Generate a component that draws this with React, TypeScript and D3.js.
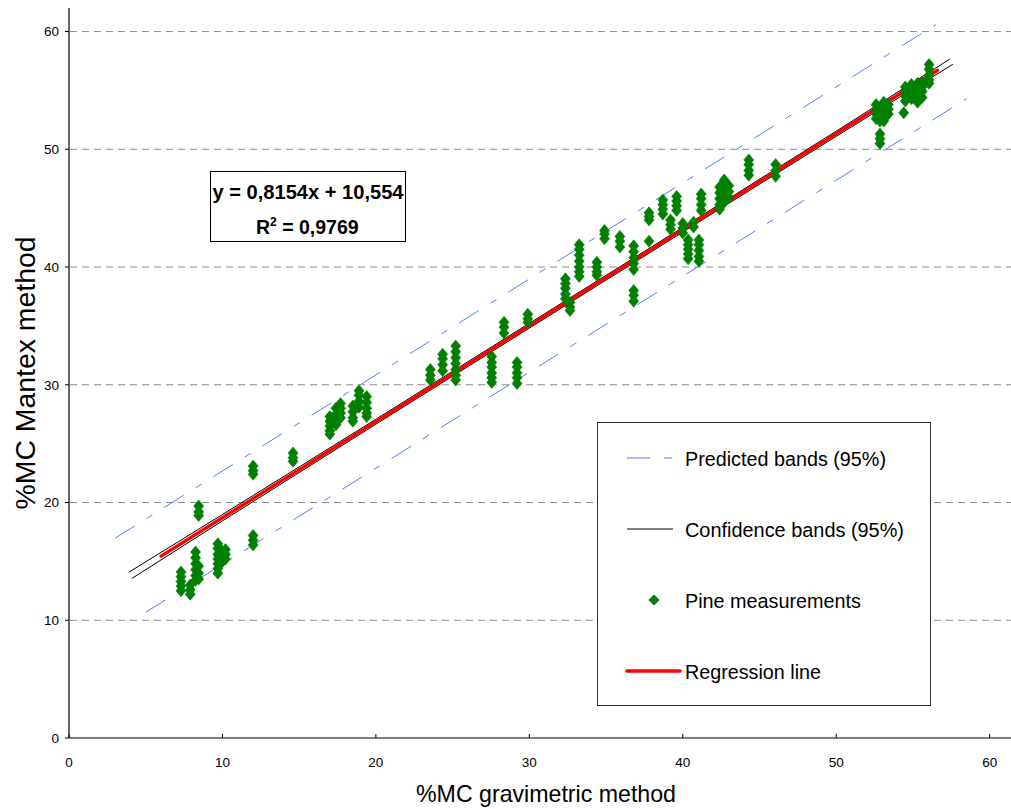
import React from 'react';
import * as d3 from 'd3';

// Regression stated on the chart
const REG_SLOPE = 0.8154;
const REG_INTERCEPT = 10.554;
const regressionX = [6.0, 56.6];

const xTicks = [0, 10, 20, 30, 40, 50, 60];
const yTicks = [0, 10, 20, 30, 40, 50, 60];
const gridValues = [10, 20, 30, 40, 50, 60];

// 95% prediction bands
const predUpperX = [3.0, 56.5];
const predUpperY = [16.97, 60.6];
const predLowerX = [5.0, 58.5];
const predLowerY = [10.68, 54.3];

// 95% confidence bands
const confUpperX = [3.9, 10, 20, 30, 40, 50, 57.4];
const confUpperY = [14.08, 18.98, 27.07, 35.22, 43.37, 51.54, 57.66];
const confLowerX = [4.1, 10, 20, 30, 40, 50, 57.6];
const confLowerY = [13.55, 18.44, 26.65, 34.81, 42.97, 51.1, 57.22];

// Pine measurements grouped by gravimetric MC (x) with the Mantex readings (y)
const pineColumnX = [
  7.3, 7.9, 8.25, 8.45, 8.45, 9.7, 9.95, 10.2, 12.0, 12.0,
  14.6, 17.0, 17.4, 17.7, 18.5, 18.9, 19.4, 23.55, 24.35, 25.2,
  27.55, 28.35, 29.2, 29.9, 32.35, 32.65, 33.25, 34.4, 34.9, 35.9,
  36.8, 36.8, 37.8, 37.8, 38.7, 39.2, 39.6, 40.0, 40.35, 40.7,
  41.05, 41.2, 42.4, 42.7, 43.0, 44.3, 46.05, 52.6, 52.85, 53.1,
  53.4, 54.4, 54.5, 54.9, 55.3, 55.6, 56.05,
];
const pineColumnY = [
  [14.1, 13.7, 13.3, 12.9, 12.5],
  [13.0, 12.6, 12.2],
  [15.8, 15.3, 14.8, 14.3, 13.8, 13.4],
  [14.6, 14.0, 13.5],
  [19.7, 19.2, 18.9],
  [16.5, 16.1, 15.6, 15.2, 14.8, 14.4, 14.0],
  [15.9, 15.4, 14.9],
  [16.0, 15.6, 15.2],
  [23.1, 22.7, 22.4],
  [17.2, 16.8, 16.4],
  [24.2, 23.8, 23.5],
  [27.3, 26.9, 26.5, 26.1, 25.8],
  [28.0, 27.5, 27.0, 26.6],
  [28.4, 28.0, 27.6, 27.2],
  [28.2, 27.7, 27.2, 26.9],
  [29.5, 29.1, 28.6, 28.1],
  [29.0, 28.5, 28.0, 27.6, 27.3],
  [31.3, 30.8, 30.4],
  [32.6, 32.2, 31.7, 31.2],
  [33.3, 32.8, 32.3, 31.8, 31.3, 30.8, 30.4],
  [32.4, 31.9, 31.5, 31.0, 30.6, 30.2],
  [35.3, 34.9, 34.4],
  [31.9, 31.5, 31.0, 30.6, 30.1],
  [36.0, 35.6, 35.3],
  [39.0, 38.6, 38.2, 37.7, 37.3],
  [37.0, 36.6, 36.3],
  [41.9, 41.5, 41.0, 40.5, 40.0, 39.6, 39.2],
  [40.4, 40.0, 39.6, 39.3],
  [43.1, 42.8, 42.4],
  [42.6, 42.2, 41.7],
  [41.8, 41.3, 40.8, 40.3, 39.8],
  [38.0, 37.6, 37.1],
  [44.6, 44.3, 44.0],
  [42.2],
  [45.7, 45.3, 44.9, 44.5],
  [44.0, 43.6, 43.2],
  [46.0, 45.6, 45.2, 44.8],
  [43.7, 43.3, 42.9],
  [42.3, 41.9, 41.5, 41.1, 40.7],
  [43.8, 43.4],
  [42.3, 41.9, 41.4, 40.9, 40.5],
  [46.2, 45.8, 45.3, 44.8],
  [46.8, 46.3, 45.8, 45.3, 44.9],
  [47.4, 47.0, 46.5, 46.0, 45.5],
  [46.9, 46.4, 45.9],
  [49.1, 48.7, 48.2, 47.8],
  [48.7, 48.2, 47.7],
  [53.8, 53.4, 53.0, 52.6],
  [52.4, 51.3, 50.9, 50.5],
  [54.0, 53.6, 53.2, 52.8, 52.4],
  [53.8, 53.4, 53.0],
  [53.1],
  [55.3, 54.9, 54.5, 54.1],
  [55.5, 55.1, 54.7, 54.3],
  [55.6, 55.2, 54.8, 54.4, 54.0],
  [55.7, 55.3, 54.9, 54.4],
  [57.2, 56.8, 56.3, 55.9, 55.6],
];

const legendLabels = [
  'Predicted bands (95%)',
  'Confidence bands (95%)',
  'Pine measurements',
  'Regression line',
];
const legendLabelWidths = [201, 219, 176, 136];

const FONT = "'Liberation Sans', Arial, Helvetica, sans-serif";
const BLUE = '#4f7fff';
const GREEN = '#008000';
const RED = '#ff0000';
const GRID = '#8c8c8c';

const W = 1011;
const H = 809;

const xScale = d3.scaleLinear().domain([0, 61.39]).range([69, 1011]);
const yScale = d3.scaleLinear().domain([0, 62]).range([738, 8]);

const diamond = (w: number, h: number) =>
  `M0,${-h / 2}L${w / 2},0L0,${h / 2}L${-w / 2},0Z`;

const decimalComma = (v: number) => String(v).replace('.', ',');

export default function App() {
  const line = d3
    .line<[number, number]>()
    .x((d) => xScale(d[0]))
    .y((d) => yScale(d[1]));

  const zip = (xs: number[], ys: number[]) =>
    xs.map((v, i) => [v, ys[i]] as [number, number]);

  const regPts = regressionX.map(
    (v) => [v, REG_SLOPE * v + REG_INTERCEPT] as [number, number]
  );

  const points: [number, number][] = [];
  pineColumnX.forEach((cx, i) => {
    pineColumnY[i].forEach((vy) => points.push([cx, vy]));
  });

  const plotDiamond = diamond(10, 12);
  const legendDiamond = diamond(11, 11);
  const predDash = '23,14,7,14';

  const legendRowY = [458, 529, 600, 671];

  return (
    <svg
      width={W}
      height={H}
      style={{ position: 'absolute', left: 0, top: 0, background: '#fff' }}
      fontFamily={FONT}
    >
      <rect x={0} y={0} width={W} height={H} fill="#fff" />

      {/* horizontal gridlines */}
      {gridValues.map((v) => (
        <line
          key={`g${v}`}
          x1={xScale(0) + 1}
          x2={W}
          y1={yScale(v)}
          y2={yScale(v)}
          stroke={GRID}
          strokeWidth={1}
          strokeDasharray="7,5"
        />
      ))}

      {/* prediction bands */}
      <path
        d={line(zip(predUpperX, predUpperY)) || ''}
        fill="none"
        stroke={BLUE}
        strokeWidth={1}
        strokeDasharray={predDash}
      />
      <path
        d={line(zip(predLowerX, predLowerY)) || ''}
        fill="none"
        stroke={BLUE}
        strokeWidth={1}
        strokeDasharray={predDash}
      />

      {/* confidence bands */}
      <path
        d={line(zip(confUpperX, confUpperY)) || ''}
        fill="none"
        stroke="#000"
        strokeWidth={1}
      />
      <path
        d={line(zip(confLowerX, confLowerY)) || ''}
        fill="none"
        stroke="#000"
        strokeWidth={1}
      />

      {/* regression line */}
      <path
        d={line(regPts) || ''}
        fill="none"
        stroke={RED}
        strokeWidth={3.5}
        strokeLinecap="round"
      />

      {/* measurements */}
      {points.map((p, i) => (
        <path
          key={`p${i}`}
          d={plotDiamond}
          transform={`translate(${xScale(p[0])},${yScale(p[1])})`}
          fill={GREEN}
          stroke={GREEN}
          strokeWidth={0.6}
        />
      ))}

      {/* axes */}
      <line x1={xScale(0)} x2={xScale(0)} y1={yScale(62)} y2={yScale(0)} stroke="#000" strokeWidth={1.2} />
      <line x1={xScale(0)} x2={W} y1={yScale(0)} y2={yScale(0)} stroke="#000" strokeWidth={1.2} />

      {yTicks.map((v) => (
        <g key={`yt${v}`}>
          <line x1={xScale(0) - 4} x2={xScale(0)} y1={yScale(v)} y2={yScale(v)} stroke="#000" strokeWidth={1} />
          <text
            x={xScale(0) - 10}
            y={yScale(v)}
            dy="0.36em"
            textAnchor="end"
            fontSize={13.5}
            fill="#000"
          >
            {v}
          </text>
        </g>
      ))}

      {xTicks.map((v) => (
        <g key={`xt${v}`}>
          <line x1={xScale(v)} x2={xScale(v)} y1={yScale(0) - 4} y2={yScale(0)} stroke="#000" strokeWidth={1} />
          <text x={xScale(v)} y={767} textAnchor="middle" fontSize={13.5} fill="#000">
            {v}
          </text>
        </g>
      ))}

      {/* axis titles */}
      <text
        x={546}
        y={802}
        textAnchor="middle"
        fontSize={24}
        textLength={260}
        lengthAdjust="spacingAndGlyphs"
        fill="#000"
      >
        %MC gravimetric method
      </text>
      <text
        transform="translate(35,373) rotate(-90)"
        textAnchor="middle"
        fontSize={27.5}
        textLength={273}
        lengthAdjust="spacingAndGlyphs"
        fill="#000"
      >
        %MC Mantex method
      </text>

      {/* regression equation */}
      <rect x={210.5} y={171.5} width={195} height={70} fill="#fff" stroke="#000" strokeWidth={1} />
      <text
        x={308}
        y={199}
        textAnchor="middle"
        fontSize={19.5}
        fontWeight="bold"
        textLength={191}
        lengthAdjust="spacingAndGlyphs"
        fill="#000"
      >
        {`y = ${decimalComma(REG_SLOPE)}x + ${decimalComma(REG_INTERCEPT)}`}
      </text>
      <text
        x={256}
        y={234}
        fontSize={19.5}
        fontWeight="bold"
        fill="#000"
      >
        R<tspan dy={-8} fontSize={12}>2</tspan>
        <tspan dy={8}> = 0,9769</tspan>
      </text>

      {/* legend */}
      <rect x={597.5} y={422.5} width={333} height={283} fill="#fff" stroke="#333" strokeWidth={1} />
      <line x1={627} x2={674} y1={legendRowY[0]} y2={legendRowY[0]} stroke={BLUE} strokeWidth={1} strokeDasharray="23,14,8,14" />
      <line x1={627} x2={673} y1={legendRowY[1]} y2={legendRowY[1]} stroke="#000" strokeWidth={1} />
      <path d={legendDiamond} transform={`translate(654,${legendRowY[2]})`} fill={GREEN} />
      <line x1={627} x2={680} y1={legendRowY[3]} y2={legendRowY[3]} stroke={RED} strokeWidth={3.5} strokeLinecap="round" />
      {legendLabels.map((t, i) => (
        <text
          key={t}
          x={685}
          y={legendRowY[i] + 8}
          fontSize={20.5}
          textLength={legendLabelWidths[i]}
          lengthAdjust="spacingAndGlyphs"
          fill="#000"
        >
          {t}
        </text>
      ))}
    </svg>
  );
}
